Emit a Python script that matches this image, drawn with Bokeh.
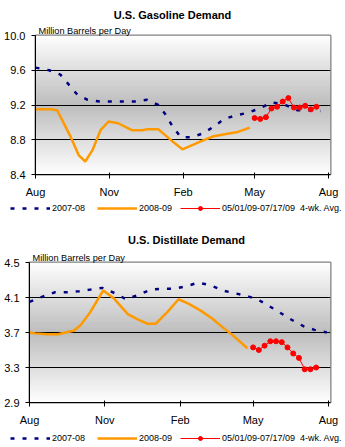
import numpy as np
from bokeh.plotting import figure
from bokeh.layouts import column
from bokeh.models import (Range1d, FixedTicker, Title, Label, Legend,
                          LegendItem, PrintfTickFormatter)
from bokeh.embed import file_html
from bokeh.resources import INLINE

FONT = "Liberation Sans"

# x positions are days since Aug 1
month_ticks = [0, 92, 184, 273, 365]
month_labels = ["Aug", "Nov", "Feb", "May", "Aug"]

# ---- U.S. Gasoline Demand (million barrels per day) ----
gas_0708_day = [0, 17, 31, 41, 52, 65, 80, 95, 110, 125, 139, 153, 162, 171,
                181, 194, 208, 222, 235, 250, 264, 279, 294, 309, 326, 340, 355]
gas_0708 = [9.63, 9.60, 9.55, 9.44, 9.32, 9.26, 9.24, 9.24, 9.24, 9.24, 9.26,
            9.20, 9.09, 8.95, 8.83, 8.83, 8.87, 8.95, 9.04, 9.08, 9.11, 9.16,
            9.23, 9.21, 9.14, 9.14, 9.13]
gas_0809_day = [0, 19, 27, 44, 54, 62, 71, 81, 91, 103, 120, 133, 139, 153,
                162, 172, 183, 196, 208, 222, 239, 252, 267]
gas_0809 = [9.15, 9.15, 9.14, 8.83, 8.62, 8.55, 8.68, 8.91, 9.01, 8.99, 8.91,
            8.91, 8.92, 8.92, 8.85, 8.77, 8.69, 8.74, 8.79, 8.84, 8.87, 8.89,
            8.94]
avg_day = [273, 280, 287, 294, 301, 308, 315, 322, 329, 336, 343, 350]
gas_avg = [9.05, 9.04, 9.06, 9.16, 9.18, 9.24, 9.28, 9.17, 9.17, 9.19, 9.15,
           9.18]
gas_yticks = [8.4, 8.8, 9.2, 9.6, 10.0]

# ---- U.S. Distillate Demand (million barrels per day) ----
dist_0708_day = [0, 16, 31, 45, 60, 74, 89, 104, 118, 133, 148, 162, 176, 192,
                 206, 221, 236, 250, 265, 280, 293, 307, 321, 335, 348, 363]
dist_0708 = [4.05, 4.11, 4.16, 4.16, 4.17, 4.19, 4.21, 4.15, 4.08, 4.13, 4.19,
             4.20, 4.20, 4.23, 4.27, 4.24, 4.18, 4.15, 4.12, 4.07, 4.00, 3.92,
             3.84, 3.77, 3.73, 3.70]
dist_0809_day = [0, 7, 22, 35, 44, 54, 62, 74, 90, 103, 120, 132, 144, 154,
                 168, 182, 194, 209, 223, 237, 248, 266]
dist_0809 = [3.70, 3.69, 3.68, 3.68, 3.70, 3.72, 3.78, 3.93, 4.18, 4.09, 3.91,
             3.85, 3.80, 3.80, 3.93, 4.08, 4.03, 3.95, 3.86, 3.75, 3.67, 3.52]
dist_avg = [3.53, 3.50, 3.55, 3.60, 3.60, 3.59, 3.53, 3.46, 3.41, 3.28, 3.28,
            3.30]
dist_yticks = [2.9, 3.3, 3.7, 4.1, 4.5]

series_names = ["2007-08", "2008-09", "05/01/09-07/17/09  4-wk. Avg."]
titles = ["U.S. Gasoline Demand", "U.S. Distillate Demand"]
unit_text = "Million Barrels per Day"

NAVY, ORANGE, RED = "#000080", "#FF9900", "#FF0000"


def strip(height, x0=0):
    s = figure(width=345, height=height, x_range=Range1d(x0, x0 + 345),
               y_range=Range1d(0, height), output_backend="svg",
               toolbar_location=None, x_axis_type=None, y_axis_type=None,
               min_border=0, min_border_left=0, min_border_right=0,
               min_border_top=0, min_border_bottom=0, frame_align=False)
    s.outline_line_color = None
    s.background_fill_color = "white"
    s.border_fill_color = "white"
    return s


def header(text, height, cx, cy):
    h = strip(height)
    h.add_layout(Label(x=cx, y=cy, text=text, text_font=FONT,
                       text_font_style="bold", text_font_size="11px",
                       text_align="center", text_baseline="middle",
                       text_color="black"))
    return h


def add_series(fig, a_day, a_val, b_day, b_val, c_day, c_val):
    r1 = fig.line(a_day, a_val, line_color=NAVY, line_width=2.5,
                  line_dash="4 8")
    r2 = fig.line(b_day, b_val, line_color=ORANGE, line_width=2.5)
    r3 = fig.line(c_day, c_val, line_color=RED, line_width=1)
    r3m = fig.scatter(c_day, c_val, size=5, color=RED)
    return r1, r2, r3, r3m


def legend_strip(height, ly, series):
    # the series are drawn far outside this strip's x range; only the
    # legend keys show
    s = strip(height, x0=-5000)
    r1, r2, r3, r3m = add_series(s, *series)
    for rends, name, gx in (([r1], series_names[0], 10),
                            ([r2], series_names[1], 97),
                            ([r3, r3m], series_names[2], 180)):
        leg = Legend(items=[LegendItem(label=name, renderers=rends)],
                     location=(gx, ly), orientation="horizontal",
                     glyph_width=40, glyph_height=10, label_standoff=2,
                     padding=0, margin=0, border_line_color=None,
                     background_fill_alpha=0, label_text_font=FONT,
                     label_text_font_size="9px", label_height=10,
                     label_text_color="black", label_text_baseline="middle")
        s.add_layout(leg, "center")
    return s


def make_chart(yticks, series, height, left, top, bottom):
    y0, y1 = yticks[0], yticks[-1]
    p = figure(width=345, height=height, x_range=Range1d(0, 367.5),
               y_range=Range1d(y0, y1), output_backend="svg",
               toolbar_location=None, min_border_left=left,
               min_border_right=15, min_border_top=top,
               min_border_bottom=bottom, frame_align=False)
    p.background_fill_color = "white"
    p.border_fill_color = "white"
    p.outline_line_color = "#808080"
    p.outline_line_width = 2

    # gradient background: light at top and bottom, gray in the middle
    n = 160
    t = np.linspace(0, 1, n)
    g = (190 + 65 * np.abs(t - 0.5) * 2).clip(0, 255).astype(np.uint8)
    img = np.empty((n, 1), dtype=np.uint32)
    v = img.view(dtype=np.uint8).reshape((n, 1, 4))
    v[:, 0, 0] = g
    v[:, 0, 1] = g
    v[:, 0, 2] = g
    v[:, 0, 3] = 255
    p.image_rgba(image=[img], x=0, y=y0, dw=367.5, dh=y1 - y0, level="image")

    # axes
    p.xaxis.ticker = FixedTicker(ticks=month_ticks)
    p.xaxis.major_label_overrides = {k: v for k, v in zip(month_ticks, month_labels)}
    p.yaxis.ticker = FixedTicker(ticks=yticks)
    p.yaxis.formatter = PrintfTickFormatter(format="%.1f")
    for ax in (p.xaxis[0], p.yaxis[0]):
        ax.axis_line_color = "black"
        ax.axis_line_width = 1
        ax.major_tick_line_color = "black"
        ax.minor_tick_line_color = None
        ax.major_label_text_font = FONT
        ax.major_label_text_font_size = "11px"
        ax.major_label_text_color = "black"
    p.xaxis.major_tick_out = 4
    p.xaxis.major_tick_in = 2
    p.xaxis.major_label_standoff = 7
    p.yaxis.major_tick_out = 4
    p.yaxis.major_tick_in = 0
    p.yaxis.major_label_standoff = 6

    p.xgrid.visible = False
    p.ygrid.ticker = FixedTicker(ticks=yticks[1:-1])
    p.ygrid.grid_line_color = "black"
    p.ygrid.grid_line_width = 1.2

    add_series(p, *series)

    p.add_layout(Title(text=unit_text, text_font=FONT, text_font_size="9.2px",
                       align="left", offset=3, text_color="black",
                       text_font_style="normal", standoff=0,
                       vertical_align="bottom"), "above")
    return p


gas_series = (gas_0708_day, gas_0708, gas_0809_day, gas_0809, avg_day, gas_avg)
dist_series = (dist_0708_day, dist_0708, dist_0809_day, dist_0809, avg_day,
               dist_avg)

h1 = header(titles[0], 22, 172, 8)
m1 = make_chart(gas_yticks, gas_series, height=180, left=35, top=13,
                bottom=28)
l1 = legend_strip(22, 11, gas_series)
h2 = header(titles[1], 23, 186, 8)
m2 = make_chart(dist_yticks, dist_series, height=181, left=29, top=15,
                bottom=26)
l2 = legend_strip(19, 4, dist_series)

layout = column(h1, m1, l1, h2, m2, l2, spacing=0)
open("out.html", "w").write(file_html(layout, INLINE))
